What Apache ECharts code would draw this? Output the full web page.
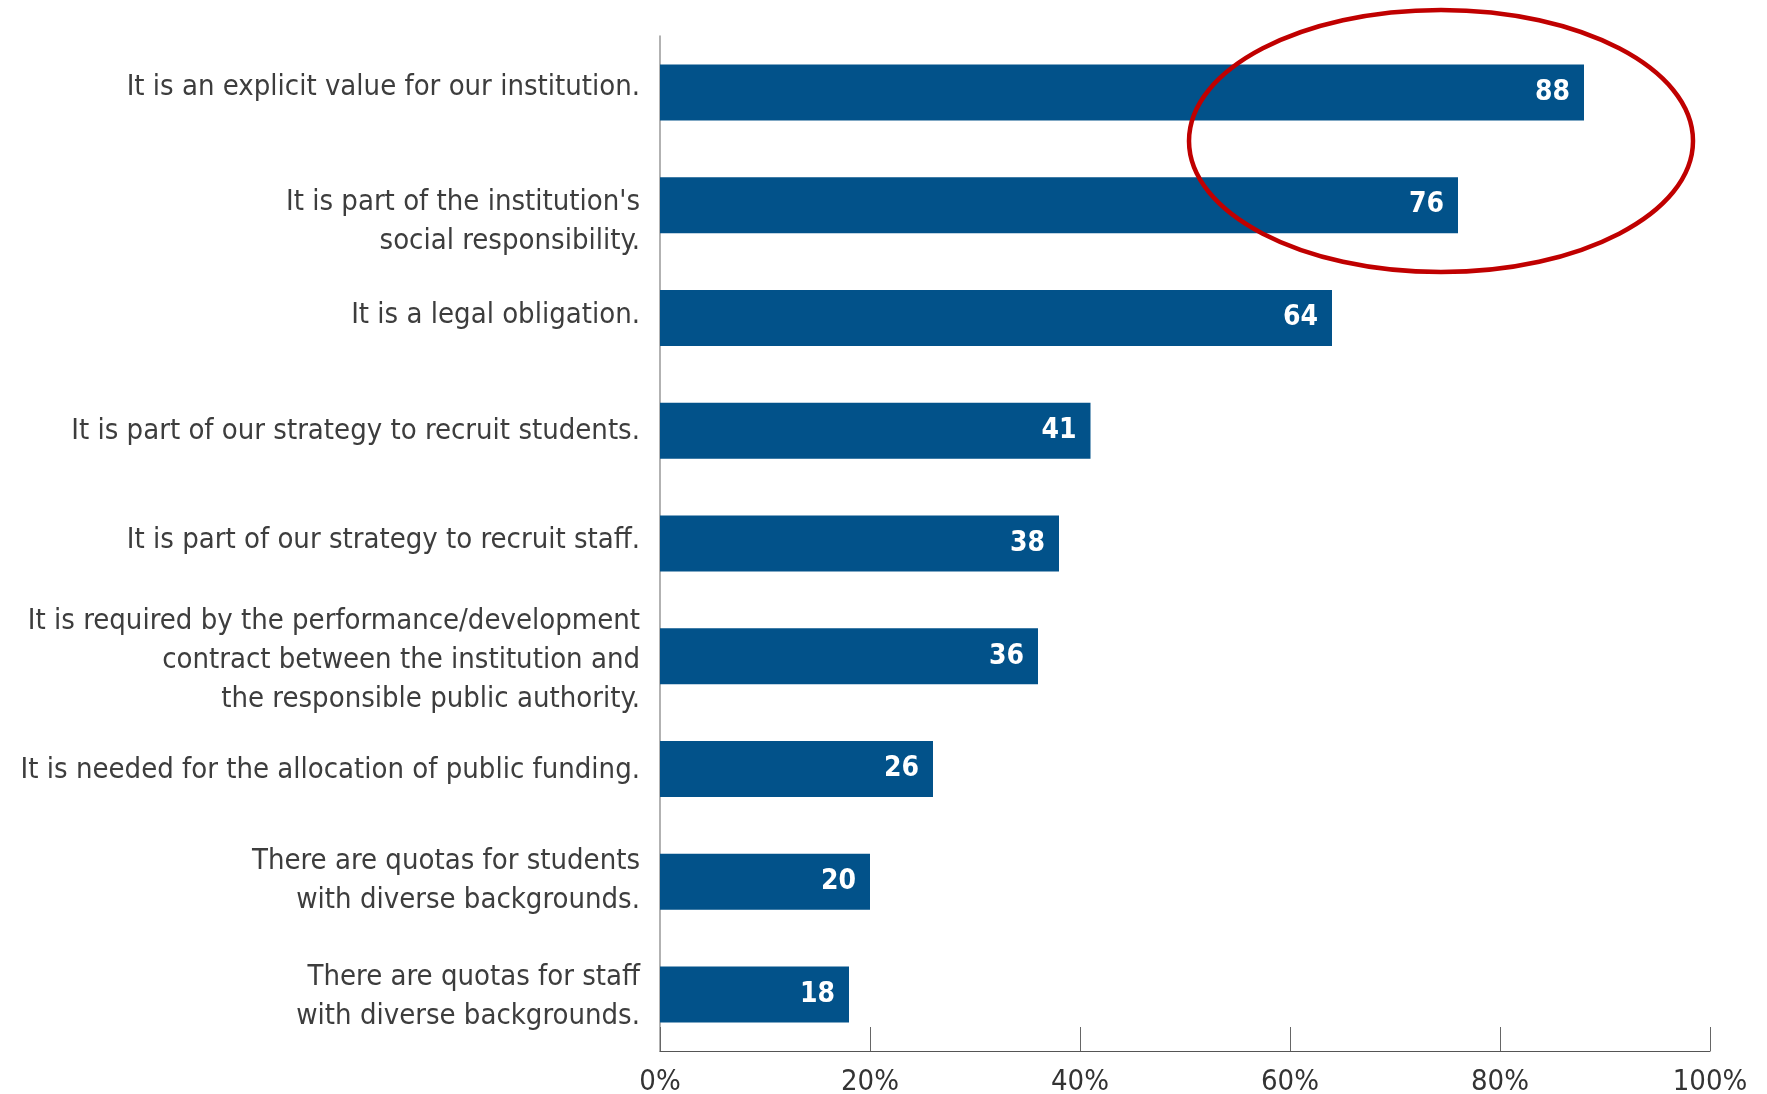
<!DOCTYPE html>
<html>
<head>
<meta charset="utf-8">
<script src="https://cdn.jsdelivr.net/npm/echarts@6/dist/echarts.min.js"></script>
<style>
  html, body { margin: 0; padding: 0; background: #fff; }
  #main { width: 1767px; height: 1094px; }
</style>
</head>
<body>
<div id="main"></div>
<script>
var categories = [
  "It is an explicit value for our institution.",
  "It is part of the institution's\nsocial responsibility.",
  "It is a legal obligation.",
  "It is part of our strategy to recruit students.",
  "It is part of our strategy to recruit staff.",
  "It is required by the performance/development\ncontract between the institution and\nthe responsible public authority.",
  "It is needed for the allocation of public funding.",
  "There are quotas for students\nwith diverse backgrounds.",
  "There are quotas for staff\nwith diverse backgrounds."
];
var values = [88, 76, 64, 41, 38, 36, 26, 20, 18];
var tickValues = [0, 20, 40, 60, 80, 100];

// vertical nudge of each category label in px (positive = down), as in the original layout
var labelShift = [-5, 17, -2, 1, -3, 4, 1, -1, 2];

var font = "'Liberation Sans Narrow', 'DejaVu Sans Condensed', 'Roboto', sans-serif";
var chart = echarts.init(document.getElementById("main"));

var ring = {
  type: "ellipse",
  shape: { cx: 1441, cy: 141, rx: 252, ry: 131 },
  style: { fill: "none", stroke: "#c00000", lineWidth: 4.5 },
  z: 100
};

var option = {
  backgroundColor: "#ffffff",
  animation: false,
  grid: { left: 660, right: 57, top: 36, bottom: 43, containLabel: false, outerBoundsMode: "none" },
  xAxis: {
    type: "value",
    min: tickValues[0],
    max: tickValues[tickValues.length - 1],
    interval: 20,
    axisLine: { show: true, lineStyle: { color: "#555", width: 1.2 } },
    axisTick: { show: true, inside: true, length: 24, lineStyle: { color: "#666", width: 1 } },
    splitLine: { show: false },
    axisLabel: {
      formatter: "{value}%",
      fontFamily: font,
      fontSize: 29,
      color: "#333",
      margin: 17
    }
  },
  yAxis: {
    type: "category",
    inverse: true,
    data: categories,
    axisLine: { show: true, lineStyle: { color: "#999", width: 1.5 } },
    axisTick: { show: false },
    axisLabel: { show: false }
  },
  series: [
    {
      type: "bar",
      data: values,
      barWidth: 56,
      itemStyle: { color: "#02528a" },
      label: {
        show: true,
        position: "insideRight",
        distance: 14,
        color: "#fff",
        fontFamily: font,
        fontWeight: "bold",
        fontSize: 28
      }
    }
  ],
  graphic: [ring]
};

chart.setOption(option);

// category labels placed from the axis scale, each nudged like the original
var labels = categories.map(function (c, i) {
  var p = chart.convertToPixel({ gridIndex: 0 }, [0, i]);
  return {
    type: "text",
    x: p[0] - 20,
    y: p[1] + labelShift[i],
    silent: true,
    style: {
      text: c,
      align: "right",
      verticalAlign: "middle",
      fontFamily: font,
      fontSize: 29,
      lineHeight: 39,
      fill: "#3d3d3d"
    }
  };
});
chart.setOption({ graphic: [ring].concat(labels) });
</script>
</body>
</html>
